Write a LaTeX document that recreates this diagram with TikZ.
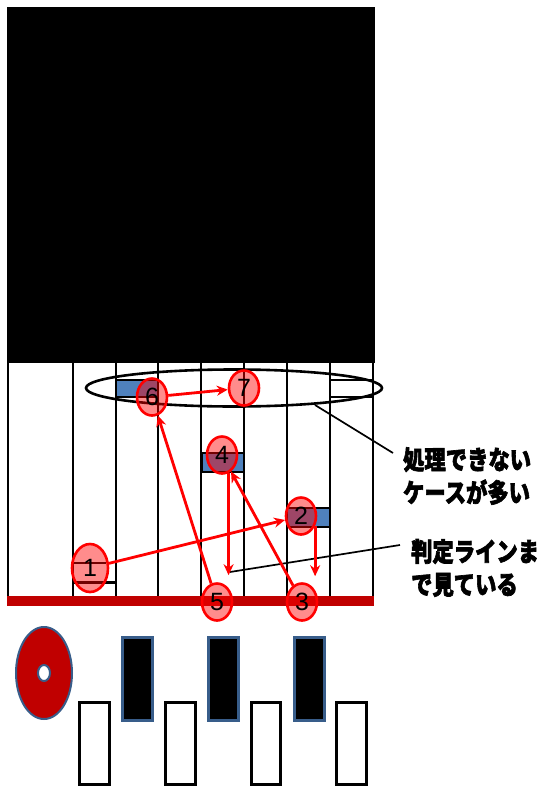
\documentclass[tikz,border=0pt]{standalone}
\usepackage{fontspec}
\setmainfont{Liberation Sans}
\newfontfamily\jp{Noto Sans CJK JP}[BoldFeatures={FakeBold=2.6}]
\usetikzlibrary{shapes.geometric,arrows.meta}
\definecolor{darkred}{HTML}{C00000}
\definecolor{barblue}{HTML}{4F81BD}
\definecolor{keyblue}{HTML}{385D8A}
\begin{document}
\begin{tikzpicture}[x=1pt,y=-1pt,
  num/.style={ellipse,draw=red,line width=2.6pt,fill=red,fill opacity=0.45,text opacity=1,
    inner sep=0pt,minimum width=30pt,minimum height=37pt,font=\fontsize{25}{25}\selectfont},
  move/.style={draw=red,line width=2.8pt,-{Stealth[length=11pt,width=10pt]}},
  colline/.style={line width=2.5pt},
  blubar/.style={draw=black,line width=2.2pt,fill=barblue},
  callout/.style={line width=1.7pt},
  jptext/.style={anchor=west,align=left,inner sep=0pt,xscale=0.82,
    font=\jp\bfseries\fontsize{26}{33}\selectfont},
  blackkey/.style={draw=keyblue,line width=3pt,fill=black},
  whitekey/.style={draw=black,line width=3pt,fill=white}
]
\useasboundingbox (0,0) rectangle (538,792);
% black top region
\fill[black] (7,7) rectangle (375,363);
% column lines
\foreach \x in {8,73,116,158,201,244,287,330,373}
  \draw[colline] (\x,363) -- (\x,597);
% judgement line
\fill[darkred] (7,596) rectangle (374,606);
% bars
\draw[blubar] (116,380) rectangle (158,397);
\draw[line width=2.2pt,fill=white] (330,380) rectangle (373,397);
\draw[blubar] (202,453) rectangle (244,472);
\draw[blubar] (287,508) rectangle (330,527);
\draw[line width=1.6pt] (73,563) -- (106,563);
\draw[line width=3pt] (73,582) -- (117,582);
% ellipse
\node[ellipse,draw=black,line width=2.6pt,minimum width=296pt,minimum height=37pt,inner sep=0pt] (sel) at (234,388) {};
% callout texts
\node[jptext] (t1) at (403,476) {処理できない\\ケースが多い};
\node[jptext] (t2) at (411,568) {判定ラインま\\で見ている};
\coordinate (c1) at (393,453);
\coordinate (c2) at (400,545);
\coordinate (e1) at (315,405);
\coordinate (e2) at (230,572);
\draw[callout] (e1) -- (c1);
\draw[callout] (e2) -- (c2);
% numbered circles
\node[num,minimum width=36pt,minimum height=48pt] (n1) at (90,568) {1};
\node[num] (n2) at (301,516) {2};
\node[num] (n3) at (302,602) {3};
\node[num] (n4) at (222,455) {4};
\node[num] (n5) at (217,602) {5};
\node[num] (n6) at (152,397) {6};
\node[num,minimum height=35pt] (n7) at (244,388) {7};
% moves
\coordinate (a3) at ([yshift=6pt]n2.-35 |- n3.north);
\coordinate (a5) at ([yshift=7pt]n4.-70 |- n5.north);
\draw[move] (n1) -- (n2);
\draw[move] (n2.-35) -- (a3);
\draw[move] (n3) -- (n4);
\draw[move] (n4.-70) -- (a5);
\draw[move] (n5) -- (n6);
\draw[move] (n6) -- (n7);
% donut
\fill[darkred,even odd rule,draw=keyblue,line width=2pt] (44,673) ellipse [x radius=28pt,y radius=46pt]
  (44,673) ellipse [x radius=6pt,y radius=8pt];
% keys
\draw[blackkey] (122,637) rectangle (152,720);
\draw[blackkey] (208,637) rectangle (238,720);
\draw[blackkey] (294,637) rectangle (324,720);
\draw[whitekey] (79,702) rectangle (109,784);
\draw[whitekey] (165,702) rectangle (195,784);
\draw[whitekey] (251,702) rectangle (280,784);
\draw[whitekey] (336,702) rectangle (366,784);
\end{tikzpicture}
\end{document}
